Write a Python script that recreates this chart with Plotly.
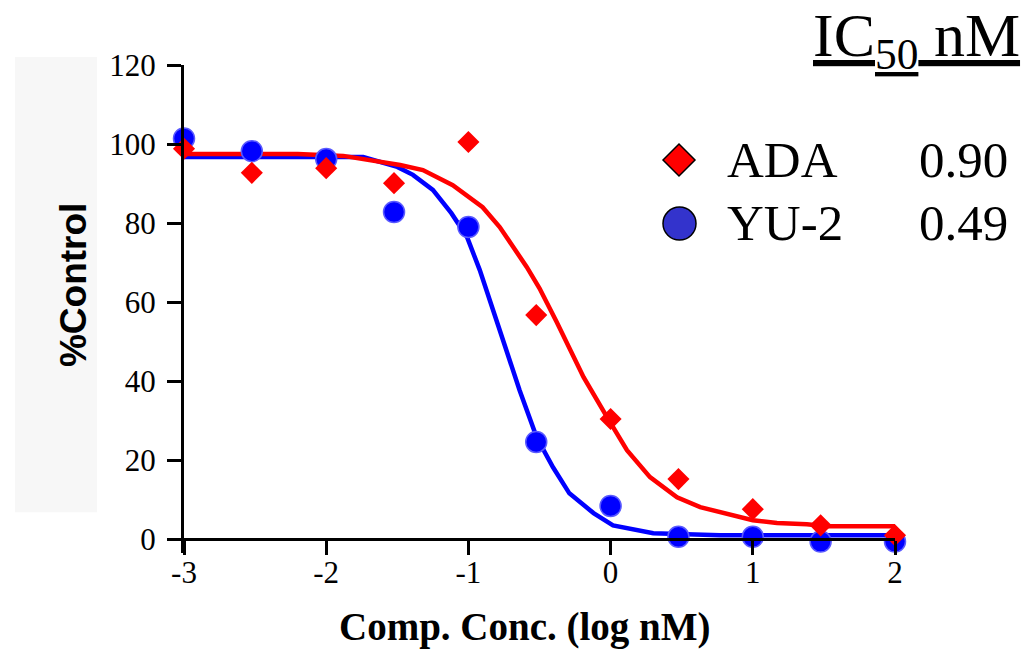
import plotly.graph_objects as go

# ---------------- data ----------------
log_conc = [-3.0, -2.523, -2.0, -1.523, -1.0, -0.523, 0.0, 0.477, 1.0, 1.477, 2.0]
ada_pct = [98.8, 92.7, 93.9, 90.1, 100.5, 56.7, 30.4, 15.2, 7.6, 3.5, 1.0]
yu2_pct = [101.4, 98.2, 96.2, 82.8, 79.0, 24.6, 8.4, 0.6, 0.6, -0.6, -0.6]

ada_fit_x = [-3.0, -2.2, -1.88, -1.6, -1.48, -1.32, -1.11, -0.90, -0.78, -0.59, -0.5, -0.38,
             -0.19, -0.025, 0.115, 0.277, 0.467, 0.63, 1.0, 1.17, 1.38, 1.52, 2.0]
ada_fit_y = [97.5, 97.5, 97.0, 95.4, 94.7, 93.4, 89.6, 84.0, 79.0, 68.9, 63.5, 55.0,
             41.0, 30.9, 22.5, 15.7, 10.6, 8.1, 4.8, 4.1, 3.8, 3.3, 3.3]
yu2_fit_x = [-3.0, -1.74, -1.5, -1.39, -1.25, -1.12, -1.01, -0.92, -0.79, -0.64, -0.52,
             -0.405, -0.29, -0.12, 0.017, 0.30, 0.77, 2.0]
yu2_fit_y = [96.7, 96.7, 94.2, 92.2, 88.4, 82.5, 76.5, 68.1, 54.0, 37.7, 25.8,
             18.2, 11.6, 6.6, 3.5, 1.5, 1.0, 1.0]

x_ticks = [-3, -2, -1, 0, 1, 2]
x_tick_labels = ["-3", "-2", "-1", "0", "1", "2"]
y_ticks = [0, 20, 40, 60, 80, 100, 120]
legend_names = ["ADA", "YU-2"]
ic50_values = ["0.90", "0.49"]

# ---------------- layout geometry (pixels) ----------------
W, H = 1028, 651
L, R, T = 184, 895, 65
Y0 = 539            # pixel row of y = 0
Y_MIN = -3.5        # axis range extends slightly below 0 so low markers stay visible
PX_PER_Y = (Y0 - T) / 120.0
B = Y0 + (-Y_MIN) * PX_PER_Y   # bottom of plot area


def px(x):
    return (x - L) / (R - L)


def py(y):
    return (B - y) / (B - T)


RED = "#ff0000"
BLUE = "#0000ff"
SERIF = "Liberation Serif, Times New Roman, serif"

fig = go.Figure()
fig.add_trace(go.Scatter(x=yu2_fit_x, y=yu2_fit_y, mode="lines",
                         line=dict(color=BLUE, width=4.5), cliponaxis=False, showlegend=False))
fig.add_trace(go.Scatter(x=ada_fit_x, y=ada_fit_y, mode="lines",
                         line=dict(color=RED, width=4.5), cliponaxis=False, showlegend=False))
fig.add_trace(go.Scatter(x=log_conc, y=yu2_pct, mode="markers", cliponaxis=False,
                         marker=dict(symbol="circle", size=21, color=BLUE,
                                     line=dict(color="#5a5aff", width=1.5)),
                         showlegend=False))
fig.add_trace(go.Scatter(x=log_conc, y=ada_pct, mode="markers", cliponaxis=False,
                         marker=dict(symbol="diamond", size=17, color=RED,
                                     line=dict(width=0)),
                         showlegend=False))

shapes = [
    # light background behind y-axis title
    dict(type="rect", xref="paper", yref="paper", layer="below",
         x0=px(15), x1=px(97), y0=py(512), y1=py(57),
         fillcolor="#f7f7f7", line=dict(width=0)),
    # legend symbols
    dict(type="path", xref="paper", yref="paper",
         path=f"M {px(663)},{py(160)} L {px(679)},{py(144)} L {px(695)},{py(160)} "
              f"L {px(679)},{py(176)} Z",
         fillcolor=RED, line=dict(color="black", width=1.5)),
    dict(type="circle", xref="paper", yref="paper",
         x0=px(663), x1=px(696), y0=py(240), y1=py(207),
         fillcolor="#3333cc", line=dict(color="black", width=1.5)),
]

annotations = [
    dict(text="<u>IC<sub>50</sub> nM</u>", xref="paper", yref="paper",
         x=px(1022), y=py(40), xanchor="right", yanchor="middle", showarrow=False,
         font=dict(family=SERIF, size=62, color="black")),
]
for i, (name, val) in enumerate(zip(legend_names, ic50_values)):
    yc = [160, 223][i]
    annotations.append(dict(text=name, xref="paper", yref="paper", x=px(725), y=py(yc),
                            xanchor="left", yanchor="middle", showarrow=False,
                            font=dict(family=SERIF, size=51, color="black")))
    annotations.append(dict(text=val, xref="paper", yref="paper", x=px(1010), y=py(yc),
                            xanchor="right", yanchor="middle", showarrow=False,
                            font=dict(family=SERIF, size=51, color="black")))

annotations.append(dict(text="<b>%Control</b>", xref="paper", yref="paper",
                        x=px(73), y=py(285), textangle=-90, showarrow=False,
                        xanchor="center", yanchor="middle",
                        font=dict(family="Liberation Sans, Arial, sans-serif", size=37,
                                  color="black")))
annotations.append(dict(text="<b>Comp. Conc. (log nM)</b>", xref="paper", yref="paper",
                        x=px(525), y=py(627), showarrow=False,
                        xanchor="center", yanchor="middle",
                        font=dict(family=SERIF, size=39, color="black")))

fig.update_layout(
    width=W, height=H,
    margin=dict(l=L, r=W - R, t=T, b=H - B, pad=0),
    paper_bgcolor="white", plot_bgcolor="white",
    shapes=shapes, annotations=annotations, showlegend=False,
    xaxis=dict(range=[-3, 2], tickvals=x_ticks, ticktext=x_tick_labels,
               anchor="free", position=py(Y0),
               showgrid=False, zeroline=False, showline=True, linecolor="black",
               linewidth=3, ticks="outside", ticklen=14, tickwidth=2.5, tickcolor="black",
               tickfont=dict(family=SERIF, size=31, color="black"), ticklabelstandoff=-9),
    yaxis=dict(range=[Y_MIN, 120], tickvals=y_ticks, showgrid=False, zeroline=False,
               showline=True, linecolor="black", linewidth=3, ticks="outside",
               ticklen=14, tickwidth=2.5, tickcolor="black",
               tickfont=dict(family=SERIF, size=31, color="black"), ticklabelstandoff=5),
)

fig.write_html("out.html")
